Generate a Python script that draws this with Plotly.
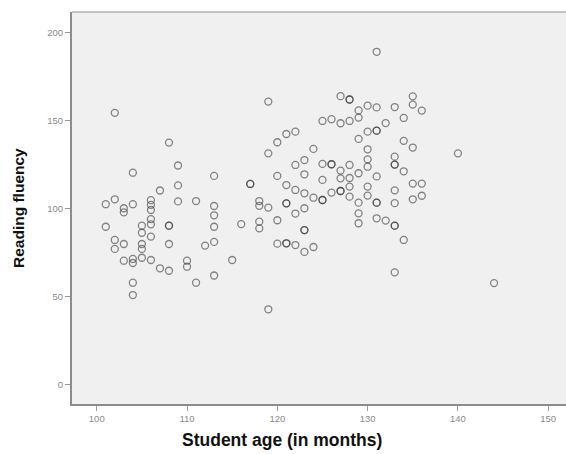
import plotly.graph_objects as go

# Student age (months) and reading fluency
age = [
    101, 101,
    102, 102, 102, 102,
    103, 103, 103, 103,
    104, 104, 104, 104, 104, 104,
    105, 105, 105, 105, 105,
    106, 106, 106, 106, 106, 106, 106,
    107, 107,
    108, 108, 108, 108, 108,
    109, 109, 109,
    110, 110,
    111, 111,
    112,
    113, 113, 113, 113, 113, 113,
    115,
    116,
    117, 117,
    118, 118, 118, 118,
    119, 119, 119, 119,
    120, 120, 120, 120,
    121, 121, 121, 121, 121, 121,
    122, 122, 122, 122, 122,
    123, 123, 123, 123, 123, 123, 123,
    124, 124, 124,
    125, 125, 125, 125, 125,
    126, 126, 126, 126,
    127, 127, 127, 127, 127, 127,
    128, 128, 128, 128, 128, 128, 128,
    129, 129, 129, 129, 129, 129, 129,
    130, 130, 130, 130, 130, 130, 130,
    131, 131, 131, 131, 131, 131, 131, 131,
    132, 132,
    133, 133, 133, 133, 133, 133, 133, 133, 133,
    134, 134, 134, 134,
    135, 135, 135, 135, 135,
    136, 136, 136,
    140,
    144,
]
fluency = [
    102.7, 89.9,
    154.6, 105.5, 82.4, 77.3,
    100.4, 98.1, 80.1, 70.6,
    120.6, 102.7, 71.6, 69.3, 58.1, 51.1,
    90.5, 86.5, 80.1, 77.3, 72.3,
    105.0, 102.3, 99.4, 94.2, 91.3, 84.3, 71.0,
    110.5, 66.3,
    137.7, 90.5, 90.5, 80.1, 64.9,
    124.7, 113.4, 104.3,
    70.6, 67.2,
    104.5, 58.1,
    79.2,
    118.8, 101.7, 96.4, 89.9, 81.3, 62.2,
    71.0,
    91.4,
    114.2, 114.2,
    104.5, 101.8, 92.8, 89.0,
    161.0, 131.6, 100.8, 43.0,
    137.9, 118.8, 93.6, 80.3,
    142.6, 113.6, 103.2, 103.2, 80.5, 80.5,
    143.9, 125.0, 110.8, 97.4, 79.5,
    127.8, 119.7, 108.9, 100.4, 88.0, 88.0, 75.6,
    134.1, 106.4, 78.4,
    150.0, 125.6, 116.5, 105.1, 105.1,
    151.0, 125.4, 125.4, 109.3,
    164.1, 148.7, 121.8, 117.4, 110.2, 110.2,
    162.2, 162.2, 150.0, 125.0, 117.6, 112.7, 107.0,
    156.0, 151.9, 139.8, 120.3, 103.6, 97.5, 91.9,
    158.7, 143.9, 133.9, 128.2, 124.0, 112.7, 107.6,
    189.3, 157.7, 144.5, 144.5, 118.5, 103.6, 103.6, 94.7,
    148.8, 93.4,
    157.9, 129.7, 125.2, 125.2, 110.6, 103.3, 90.5, 90.5, 64.0,
    151.7, 138.7, 121.4, 82.4,
    164.0, 159.3, 134.9, 114.4, 105.5,
    155.9, 114.4, 107.5,
    131.6,
    57.9,
]

x_ticks = [100, 110, 120, 130, 140, 150]
y_ticks = [0, 50, 100, 150, 200]

fig = go.Figure()
fig.add_trace(go.Scatter(
    x=age, y=fluency, mode="markers",
    marker=dict(symbol="circle-open", size=7,
                color="rgba(40,40,40,0.55)",
                line=dict(width=1.3, color="rgba(40,40,40,0.55)")),
    showlegend=False, hoverinfo="skip",
))

fig.update_layout(
    width=566, height=454,
    margin=dict(l=72, r=0, t=12, b=50, pad=0),
    paper_bgcolor="white",
    plot_bgcolor="#f0f0f0",
    font=dict(family="Liberation Sans, Arial, sans-serif"),
    xaxis=dict(range=[97.26, 151.97], tickvals=x_ticks, showgrid=False,
               automargin=False,
               zeroline=False, showline=True, linecolor="#8c8c8c", linewidth=2,
               ticks="outside", ticklen=5, tickwidth=1, tickcolor="#9a9a9a",
               tickfont=dict(size=9.5, color="#8a8a8a")),
    yaxis=dict(range=[-10.8, 211.9], tickvals=y_ticks, showgrid=False,
               automargin=False,
               zeroline=False, showline=True, linecolor="#8c8c8c", linewidth=2,
               ticks="outside", ticklen=5, tickwidth=1, tickcolor="#9a9a9a",
               tickfont=dict(size=9.5, color="#8a8a8a")),
    shapes=[dict(type="line", xref="paper", yref="paper", x0=0, x1=1, y0=1, y1=1,
                 line=dict(color="#b0b0b0", width=1.5))],
    annotations=[
        dict(text="<b>Student age (in months)</b>", x=282, y=440,
             xref="paper", yref="paper", showarrow=False,
             xanchor="center", yanchor="middle",
             font=dict(size=17.5, color="#111")),
        dict(text="<b>Reading fluency</b>", x=18, y=208, textangle=-90,
             xref="paper", yref="paper", showarrow=False,
             xanchor="center", yanchor="middle",
             font=dict(size=15.5, color="#111")),
    ],
)

# convert page-pixel annotation positions to paper coords
pw, ph = 566 - 72, 404 - 12
for a in fig.layout.annotations:
    a.x = (a.x - 72) / pw
    a.y = (404 - a.y) / ph

fig.write_html(
    "out.html",
    config={"displayModeBar": False},
    post_script="document.body.style.margin='0';document.body.style.overflow='hidden';",
)
